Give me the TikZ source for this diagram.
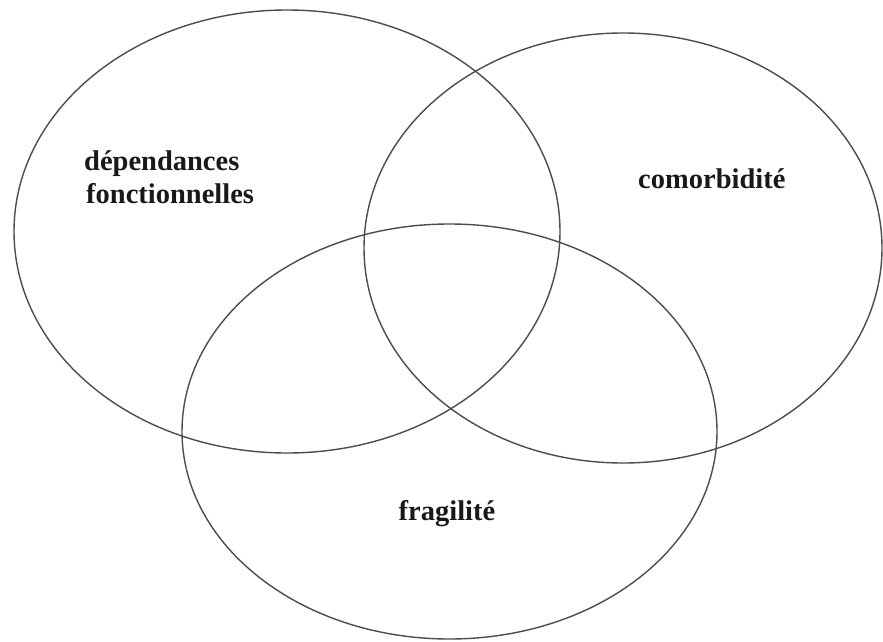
\documentclass[tikz,border=0pt]{standalone}
\usepackage{fontspec}
\setmainfont{Liberation Serif}
\usetikzlibrary{shapes.geometric}
\tikzset{
	venn/.style={ellipse, draw=black!70, line width=1.4pt, inner sep=0pt},
	lbl/.style={font=\bfseries\fontsize{28.5}{33}\selectfont, inner sep=0pt, text=black!90}
}

\begin{document}
\begin{tikzpicture}[x=1pt, y=-1pt]
			%%%%% START %%%%%
			\useasboundingbox (0, 0) rectangle (883, 642);
			
			\node[venn, minimum width=546pt, minimum height=443pt] (dep) at (287, 231.5) {};
			\node[venn, minimum width=518pt, minimum height=430pt] (com) at (623, 248) {};
			\node[venn, minimum width=535pt, minimum height=415pt] (fra) at (449.5, 431.5) {};
			
			\node[lbl, anchor=base west] (deplbl) at (84, 170) {dépendances};
			\node[lbl, anchor=base west] (deplbltwo) at (86, 203) {fonctionnelles};
			\node[lbl, anchor=base west] (comlbl) at (638, 188) {comorbidité};
			\node[lbl, anchor=base] (fralbl) at (447, 520) {fragilité};
			
			%%%%% END %%%%%
\end{tikzpicture}
\end{document}
